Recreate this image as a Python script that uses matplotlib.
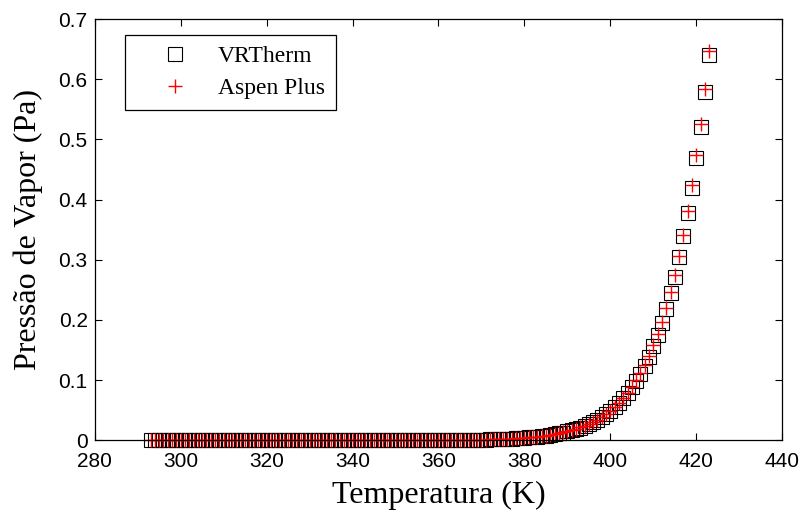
import matplotlib.pyplot as plt
import numpy as np

# temperaturas (K), passo de 1 K
temperatura = list(range(293, 424))

# pressao de vapor (Pa) - VRTherm
p_vrtherm = [
    0.0, 0.0, 0.0, 0.0, 0.0, 0.0, 0.0, 0.0, 0.0, 0.0,            # 293-302
    0.0, 0.0, 0.0, 0.0, 0.0, 0.0, 0.0, 0.0, 0.0, 0.0,            # 303-312
    0.0, 0.0, 0.0, 0.0, 0.0, 0.0, 0.0, 0.0, 0.0, 0.0,            # 313-322
    0.0, 0.0, 0.0, 0.0, 0.0, 0.0, 0.0, 0.0, 0.0, 0.0,            # 323-332
    0.0, 0.0, 0.0, 0.0, 0.0, 0.0, 0.0, 0.0, 0.0, 0.0,            # 333-342
    0.0, 0.0, 0.0001, 0.0001, 0.0001, 0.0001, 0.0001, 0.0001, 0.0001, 0.0001,  # 343-352
    0.0001, 0.0001, 0.0002, 0.0002, 0.0002, 0.0002, 0.0002, 0.0003, 0.0003, 0.0004,  # 353-362
    0.0004, 0.0005, 0.0006, 0.0007, 0.0008, 0.0009, 0.0010, 0.0011, 0.0013, 0.0015,  # 363-372
    0.0017, 0.0019, 0.0022, 0.0025, 0.0028, 0.0032, 0.0037, 0.0042, 0.0048, 0.0054,  # 373-382
    0.0062, 0.0070, 0.0079, 0.0090, 0.0102, 0.0115, 0.0130, 0.0147, 0.0166, 0.0188,  # 383-392
    0.0212, 0.0239, 0.0270, 0.0304, 0.0343, 0.0386, 0.0435, 0.049, 0.055, 0.062,     # 393-402
    0.070, 0.078, 0.088, 0.099, 0.111, 0.124, 0.139, 0.156, 0.175, 0.195,            # 403-412
    0.218, 0.244, 0.272, 0.304, 0.339, 0.377, 0.420, 0.469, 0.521, 0.578,            # 413-422
    0.640,                                                                            # 423
]

# pressao de vapor (Pa) - Aspen Plus
p_aspen = [
    0.0, 0.0, 0.0, 0.0, 0.0, 0.0, 0.0, 0.0, 0.0, 0.0,
    0.0, 0.0, 0.0, 0.0, 0.0, 0.0, 0.0, 0.0, 0.0, 0.0,
    0.0, 0.0, 0.0, 0.0, 0.0, 0.0, 0.0, 0.0, 0.0, 0.0,
    0.0, 0.0, 0.0, 0.0, 0.0, 0.0, 0.0, 0.0, 0.0, 0.0,
    0.0, 0.0, 0.0, 0.0, 0.0, 0.0, 0.0, 0.0, 0.0, 0.0,
    0.0, 0.0, 0.0001, 0.0001, 0.0001, 0.0001, 0.0001, 0.0001, 0.0001, 0.0001,
    0.0001, 0.0001, 0.0002, 0.0002, 0.0002, 0.0002, 0.0002, 0.0003, 0.0003, 0.0004,
    0.0004, 0.0005, 0.0006, 0.0007, 0.0008, 0.0009, 0.0010, 0.0011, 0.0013, 0.0015,
    0.0017, 0.0019, 0.0022, 0.0025, 0.0028, 0.0032, 0.0037, 0.0042, 0.0048, 0.0055,
    0.0063, 0.0071, 0.0080, 0.0091, 0.0103, 0.0116, 0.0131, 0.0148, 0.0168, 0.0190,
    0.0214, 0.0241, 0.0273, 0.0307, 0.0346, 0.0390, 0.0439, 0.0495, 0.0556, 0.0626,
    0.0707, 0.0788, 0.0889, 0.100, 0.112, 0.125, 0.140, 0.158, 0.177, 0.197,
    0.220, 0.246, 0.275, 0.307, 0.342, 0.381, 0.425, 0.474, 0.526, 0.584,
    0.647,
]

xticks = [280, 300, 320, 340, 360, 380, 400, 420, 440]
yticks = [0, 0.1, 0.2, 0.3, 0.4, 0.5, 0.6, 0.7]
ytick_labels = ['0', '0.1', '0.2', '0.3', '0.4', '0.5', '0.6', '0.7']

fig = plt.figure(figsize=(8.05, 5.15), dpi=100)
ax = fig.add_axes([0.1176, 0.145, 0.8542, 0.818])

ax.plot(temperatura, p_vrtherm, 's', markersize=10, markerfacecolor='none',
        markeredgecolor='black', markeredgewidth=0.8, clip_on=False,
        label='VRTherm')
ax.plot(temperatura, p_aspen, '+', markersize=10, color='#ff0000',
        markeredgewidth=1.0, clip_on=False, label='Aspen Plus')

ax.set_xlim(280, 440)
ax.set_ylim(0, 0.7)
ax.set_xticks(xticks)
ax.set_yticks(yticks)
ax.set_yticklabels(ytick_labels)
ax.tick_params(direction='in', length=5, width=0.8, top=True, right=True,
               labelsize=15)
ax.tick_params(axis='x', pad=8.5)
ax.tick_params(axis='y', pad=5)
for lab in ax.get_xticklabels() + ax.get_yticklabels():
    lab.set_fontfamily('Liberation Sans')
for s in ax.spines.values():
    s.set_linewidth(0.9)

ax.set_xlabel('Temperatura (K)', fontsize=23, family='Liberation Serif', labelpad=7)
ax.set_ylabel('Pressão de Vapor (Pa)', fontsize=23, family='Liberation Serif', labelpad=11)

leg = ax.legend(loc='upper left', bbox_to_anchor=(0.044, 0.962), borderaxespad=0,
                fancybox=False, edgecolor='black', framealpha=1,
                handletextpad=0.15, borderpad=0.45, handlelength=3.35,
                labelspacing=0.45,
                prop={'family': 'Liberation Serif', 'size': 17})
leg.get_frame().set_linewidth(0.9)

plt.savefig('out.png', dpi=100)
